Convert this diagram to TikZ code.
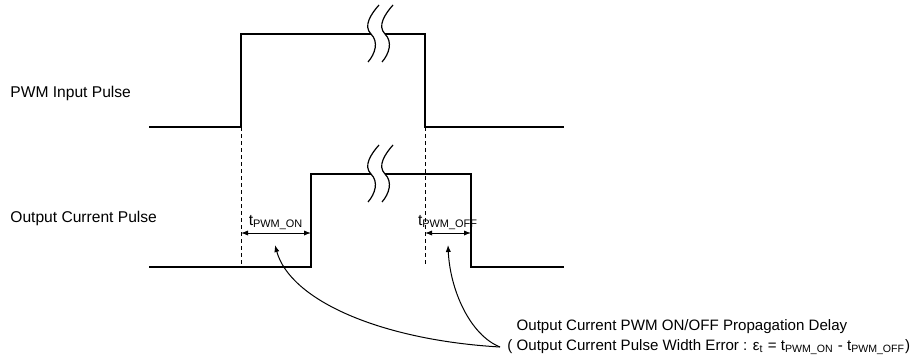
\documentclass[tikz,border=0pt]{standalone}
\usepackage{fontspec}
\setmainfont{Liberation Sans}
\usepackage{tikz}
\usetikzlibrary{arrows.meta, positioning, calc}
\tikzset{
  signal/.style={line width=1.3pt, line join=miter},
  guide/.style={dashed, dash pattern=on 2pt off 1.5pt, line width=0.4pt},
  dimarrow/.style={{Latex[length=3.5pt,width=2.6pt]}-{Latex[length=3.5pt,width=2.6pt]},
    line width=0.5pt},
  pointer/.style={-{Latex[length=3.5pt,width=2.6pt]}, line width=0.5pt},
  lbl/.style={font=\fontsize{7.8}{9.4}\selectfont, inner sep=0pt, anchor=west},
  tlbl/.style={font=\fontsize{7.8}{9.4}\selectfont, inner sep=0pt},
  notebox/.style={font=\fontsize{7.55}{9.6}\selectfont, inner sep=0pt,
    anchor=west, align=left},
  brk/.pic={
    \fill[white] (0,-29) .. controls (-8,-20) and (-16,-8) .. (-8,0)
      .. controls (0,8) and (-4,20) .. (-11,28) -- (3,28)
      .. controls (10,20) and (14,8) .. (6,0)
      .. controls (-2,-8) and (6,-20) .. (14,-29) -- cycle;
    \draw[line width=0.6pt] (0,-29) .. controls (-8,-20) and (-16,-8) .. (-8,0)
      .. controls (0,8) and (-4,20) .. (-11,28);
    \draw[line width=0.6pt] (14,-29) .. controls (6,-20) and (-2,-8) .. (6,0)
      .. controls (14,8) and (10,20) .. (3,28);
  }
}

\begin{document}
\begin{tikzpicture}[x=0.5pt, y=-0.5pt]
    \useasboundingbox (0,0) rectangle (920,358);

    % Signal names
    \node[lbl] (inlbl) at (10,93) {PWM Input Pulse};
    \node[lbl] (outlbl) at (10,218) {Output Current Pulse};

    % Waveform corners
    \foreach \n/\x/\y in {i0/149/127, i1/241/127, i2/241/34, i3/425/34,
                          i4/425/127, i5/564/127,
                          o0/149/267, o1/311/267, o2/311/174, o3/471/174,
                          o4/471/267, o5/564/267}{%
      \coordinate (\n) at (\x,\y);}

    % PWM input pulse
    \draw[signal] (i0) -- (i1) -- (i2) -- (i3) -- (i4) -- (i5);
    \pic at (379,34) {brk};

    % Output current pulse
    \draw[signal] (o0) -- (o1) -- (o2) -- (o3) -- (o4) -- (o5);
    \pic at (379,174) {brk};

    % Guides
    \draw[guide] (i1) -- (i1 |- o0);
    \draw[guide] (i4) -- (i4 |- o0);

    % Delays
    \coordinate (dimy) at (0,233);
    \draw[dimarrow] (i1 |- dimy) -- node[tlbl, above=1.2pt] (tonlbl)
      {t\textsubscript{PWM\_ON}} (o1 |- dimy);
    \draw[dimarrow] (i4 |- dimy) -- node[tlbl, above=1.2pt] (tofflbl)
      {t\textsubscript{PWM\_OFF}} (o4 |- dimy);

    % Note
    \node[notebox] (note) at (507,337)
      {\hphantom{(\ }Output Current PWM ON/OFF Propagation Delay\\
       ( Output Current Pulse Width Error : ε\textsubscript{t} =
       t\textsubscript{PWM\_ON} - t\textsubscript{PWM\_OFF})};
    \coordinate (fork) at ([xshift=-3.5pt, yshift=-5pt]note.west);
    \coordinate (ontip) at (275,245);
    \coordinate (offtip) at (448,245);
    \draw[pointer] (fork) .. controls +(-120,-7) and +(15,55) .. (ontip);
    \draw[pointer] (fork) .. controls +(-30,-12) and +(2,45) .. (offtip);
  \end{tikzpicture}
\end{document}
